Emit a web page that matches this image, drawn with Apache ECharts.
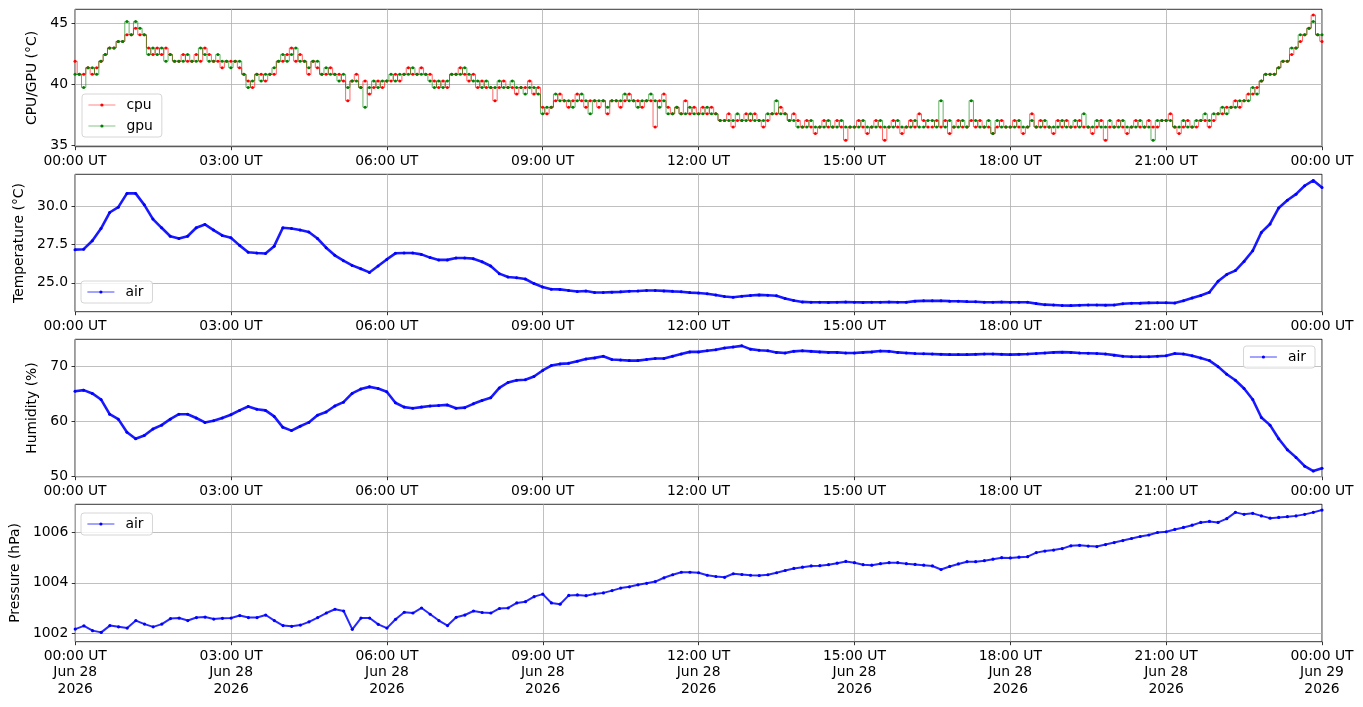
<!DOCTYPE html>
<html>
<head>
<meta charset="utf-8">
<script src="https://cdn.jsdelivr.net/npm/echarts@6/dist/echarts.min.js"></script>
<style>
  html, body { margin: 0; padding: 0; background: #fff; }
  #main { width: 1363px; height: 707px; }
</style>
</head>
<body>
<div id="main"></div>
<script>
// cpu / gpu readings, one every 5 minutes from 00:00 UT
var cpuStep = 5;
var cpuTemp = [
  41.9, 40.82, 40.82, 41.36, 40.82, 41.36, 41.9, 42.44, 42.98, 42.98, 43.52, 43.52,
  44.06, 44.06, 44.6, 44.06, 44.06, 42.98, 42.44, 42.98, 42.44, 42.98, 42.44, 41.9,
  41.9, 42.44, 41.9, 41.9, 42.44, 41.9, 42.98, 42.44, 41.9, 41.9, 41.36, 41.9,
  41.9, 41.9, 41.36, 40.82, 40.28, 39.74, 40.82, 40.82, 40.28, 40.82, 40.82, 41.9,
  41.9, 42.44, 42.98, 41.9, 42.44, 41.9, 40.82, 41.9, 41.36, 40.82, 40.82, 41.36,
  40.82, 40.82, 40.28, 38.66, 40.28, 40.82, 39.74, 40.28, 39.2, 39.74, 40.28, 39.74,
  40.28, 40.28, 40.82, 40.28, 40.82, 41.36, 40.82, 40.82, 41.36, 40.82, 40.82, 40.28,
  39.74, 40.28, 39.74, 40.82, 40.82, 41.36, 40.82, 40.28, 40.82, 39.74, 40.28, 39.74,
  39.74, 38.66, 39.74, 40.28, 39.74, 39.74, 39.2, 39.74, 39.74, 40.28, 39.2, 39.74,
  38.12, 37.58, 38.12, 38.66, 39.2, 38.66, 38.12, 38.66, 39.2, 38.66, 38.12, 38.66,
  38.66, 38.12, 38.66, 37.58, 38.66, 38.66, 38.12, 38.66, 39.2, 38.66, 38.66, 38.12,
  38.66, 38.66, 36.5, 38.66, 39.2, 38.12, 37.58, 38.12, 37.58, 38.66, 37.58, 38.12,
  37.58, 38.12, 37.58, 38.12, 37.58, 37.04, 37.04, 37.58, 36.5, 37.04, 37.04, 37.58,
  37.04, 37.58, 37.04, 36.5, 37.04, 37.58, 37.58, 38.12, 37.58, 37.04, 37.58, 37.04,
  36.5, 37.04, 36.5, 35.96, 36.5, 37.04, 36.5, 36.5, 37.04, 36.5, 35.42, 36.5,
  36.5, 37.04, 36.5, 35.96, 36.5, 37.04, 36.5, 35.42, 36.5, 37.04, 36.5, 35.96,
  36.5, 37.04, 36.5, 37.58, 37.04, 36.5, 36.5, 37.04, 36.5, 37.04, 35.96, 36.5,
  37.04, 36.5, 36.5, 37.04, 36.5, 37.04, 36.5, 36.5, 35.96, 36.5, 37.04, 36.5,
  36.5, 37.04, 36.5, 35.96, 36.5, 37.58, 36.5, 37.04, 36.5, 36.5, 35.96, 37.04,
  36.5, 37.04, 36.5, 36.5, 37.04, 36.5, 36.5, 35.96, 36.5, 37.04, 35.42, 36.5,
  36.5, 37.04, 36.5, 35.96, 36.5, 37.04, 36.5, 36.5, 37.04, 36.5, 36.5, 37.04,
  37.04, 37.58, 36.5, 35.96, 36.5, 37.04, 36.5, 36.5, 37.04, 37.04, 36.5, 37.04,
  37.58, 37.58, 38.12, 38.12, 38.66, 38.12, 38.66, 39.2, 39.2, 39.74, 40.28, 40.82,
  40.82, 40.82, 41.36, 41.9, 41.9, 42.44, 42.98, 43.52, 44.06, 44.6, 45.68, 44.06,
  43.52
];
var gpuTemp = [
  40.82, 40.82, 39.74, 41.36, 41.36, 40.82, 41.9, 42.44, 42.98, 42.98, 43.52, 43.52,
  45.14, 44.06, 45.14, 44.6, 44.06, 42.44, 42.98, 42.44, 42.98, 41.9, 42.44, 41.9,
  41.9, 41.9, 42.44, 41.9, 41.9, 42.98, 42.44, 41.9, 41.9, 42.44, 41.9, 41.9,
  41.36, 41.9, 41.9, 40.82, 39.74, 40.28, 40.82, 40.28, 40.82, 40.82, 41.36, 41.9,
  42.44, 41.9, 42.44, 42.98, 41.9, 41.9, 41.36, 41.9, 41.9, 40.82, 41.36, 40.82,
  40.82, 40.28, 40.82, 39.74, 40.28, 40.28, 39.74, 38.12, 39.74, 40.28, 39.74, 40.28,
  40.28, 40.82, 40.28, 40.82, 40.82, 40.82, 41.36, 40.82, 40.82, 40.82, 40.28, 39.74,
  40.28, 39.74, 40.28, 40.82, 40.82, 40.82, 41.36, 40.82, 40.28, 40.28, 39.74, 40.28,
  39.74, 39.74, 40.28, 39.74, 39.74, 40.28, 39.74, 39.74, 39.2, 39.74, 39.74, 39.2,
  37.58, 38.12, 38.12, 39.2, 38.66, 38.66, 38.66, 38.12, 38.66, 39.2, 38.66, 37.58,
  38.66, 38.66, 38.66, 38.12, 38.66, 38.66, 38.66, 39.2, 38.66, 38.66, 38.12, 38.66,
  38.66, 39.2, 38.66, 38.12, 38.66, 37.58, 37.58, 38.12, 37.58, 37.58, 38.12, 37.58,
  37.58, 37.58, 38.12, 37.58, 37.58, 37.04, 37.04, 37.04, 37.04, 37.58, 37.04, 37.04,
  37.58, 37.04, 37.04, 37.04, 37.58, 37.58, 38.66, 37.58, 37.58, 37.04, 37.04, 36.5,
  36.5, 36.5, 37.04, 36.5, 36.5, 36.5, 37.04, 36.5, 36.5, 37.04, 36.5, 36.5,
  36.5, 36.5, 37.04, 36.5, 36.5, 36.5, 37.04, 36.5, 36.5, 36.5, 37.04, 36.5,
  36.5, 36.5, 37.04, 36.5, 36.5, 37.04, 37.04, 36.5, 38.66, 36.5, 37.04, 36.5,
  36.5, 37.04, 36.5, 38.66, 37.04, 36.5, 36.5, 37.04, 35.96, 37.04, 36.5, 36.5,
  36.5, 36.5, 37.04, 36.5, 36.5, 37.04, 36.5, 36.5, 37.04, 36.5, 36.5, 36.5,
  37.04, 36.5, 36.5, 37.04, 36.5, 37.58, 36.5, 36.5, 37.04, 36.5, 36.5, 37.04,
  36.5, 36.5, 37.04, 36.5, 36.5, 36.5, 37.04, 36.5, 36.5, 35.42, 37.04, 37.04,
  37.04, 37.04, 36.5, 36.5, 37.04, 36.5, 36.5, 37.04, 37.04, 37.58, 37.04, 37.58,
  37.58, 38.12, 37.58, 38.12, 38.12, 38.66, 38.66, 38.66, 39.74, 39.2, 40.28, 40.82,
  40.82, 40.82, 41.36, 41.9, 41.9, 42.98, 42.98, 44.06, 44.06, 44.6, 45.14, 44.06,
  44.06
];

// air sensor readings, one every 10 minutes from 00:00 UT
var airStep = 10;
var airTemp = [
  27.17, 27.2, 27.75, 28.55, 29.6, 29.95, 30.85, 30.85, 30.1, 29.17, 28.6, 28.05,
  27.9, 28.05, 28.6, 28.82, 28.45, 28.1, 27.95, 27.45, 27.0, 26.95, 26.92, 27.4,
  28.6, 28.55, 28.45, 28.33, 27.9, 27.3, 26.8, 26.45, 26.14, 25.92, 25.68, 26.1,
  26.53, 26.93, 26.95, 26.95, 26.86, 26.65, 26.5, 26.5, 26.62, 26.62, 26.58, 26.38,
  26.1, 25.6, 25.38, 25.33, 25.25, 24.95, 24.73, 24.58, 24.57, 24.5, 24.43, 24.46,
  24.37, 24.37, 24.39, 24.41, 24.45, 24.46, 24.5, 24.5, 24.47, 24.44, 24.42, 24.36,
  24.33, 24.28, 24.2, 24.1, 24.06, 24.12, 24.17, 24.21, 24.19, 24.15, 23.98, 23.84,
  23.75, 23.73, 23.73, 23.72, 23.73, 23.74, 23.73, 23.72, 23.73, 23.73, 23.74, 23.73,
  23.73, 23.8, 23.82, 23.82, 23.83, 23.8, 23.79, 23.77, 23.76, 23.73, 23.73, 23.74,
  23.73, 23.73, 23.73, 23.64, 23.57, 23.55, 23.52, 23.51, 23.53, 23.55, 23.55, 23.54,
  23.55, 23.63, 23.66, 23.67, 23.69, 23.7, 23.7, 23.68, 23.82, 24.0, 24.17, 24.38,
  25.1, 25.55, 25.8, 26.4, 27.1, 28.3, 28.85, 29.9, 30.4, 30.8, 31.35, 31.7,
  31.23
];
var airHum = [
  65.5, 65.7, 65.1, 64.0, 61.3, 60.4, 58.0, 56.8, 57.4, 58.6, 59.3, 60.4,
  61.3, 61.3, 60.6, 59.8, 60.1, 60.6, 61.2, 62.0, 62.7, 62.2, 62.0, 60.9,
  58.9, 58.3, 59.1, 59.8, 61.1, 61.7, 62.8, 63.5, 65.1, 65.9, 66.3, 66.0,
  65.4, 63.4, 62.6, 62.4, 62.6, 62.8, 62.9, 63.0, 62.4, 62.5, 63.2, 63.8,
  64.3, 66.1, 67.1, 67.5, 67.6, 68.2, 69.3, 70.2, 70.5, 70.6, 71.0, 71.4,
  71.6, 71.9, 71.3, 71.2, 71.1, 71.1, 71.3, 71.5, 71.5, 71.9, 72.3, 72.7,
  72.7, 72.9, 73.1, 73.4, 73.6, 73.8, 73.2, 73.0, 72.9, 72.6, 72.5, 72.8,
  72.9, 72.8, 72.7, 72.6, 72.6, 72.5, 72.5, 72.6, 72.7, 72.85, 72.8, 72.6,
  72.5, 72.4, 72.35, 72.3, 72.25, 72.2, 72.2, 72.2, 72.25, 72.3, 72.3, 72.25,
  72.2, 72.25, 72.3, 72.4, 72.5, 72.6, 72.65, 72.6, 72.5, 72.45, 72.4, 72.3,
  72.1, 71.9, 71.8, 71.8, 71.8, 71.9, 72.0, 72.4, 72.3, 72.0, 71.6, 71.1,
  70.0, 68.6, 67.5, 66.0, 64.0, 60.7, 59.3, 56.8, 54.8, 53.4, 51.8, 50.9,
  51.4
];
var airPres = [
  1002.16, 1002.29, 1002.1, 1002.03, 1002.3, 1002.25, 1002.2, 1002.5, 1002.36, 1002.25, 1002.36, 1002.58,
  1002.6, 1002.5, 1002.62, 1002.64, 1002.56, 1002.59, 1002.6, 1002.7, 1002.62, 1002.62, 1002.72, 1002.5,
  1002.3, 1002.27, 1002.32, 1002.45, 1002.62, 1002.8, 1002.95, 1002.88, 1002.15, 1002.6, 1002.6, 1002.35,
  1002.2, 1002.55, 1002.83, 1002.8, 1003.0, 1002.75, 1002.5, 1002.3, 1002.63, 1002.72, 1002.88, 1002.82,
  1002.8, 1002.98, 1003.0, 1003.2, 1003.25, 1003.45, 1003.55, 1003.2, 1003.15, 1003.5, 1003.52, 1003.49,
  1003.56, 1003.6, 1003.69, 1003.79, 1003.84, 1003.92, 1003.98, 1004.05, 1004.2, 1004.32, 1004.42, 1004.42,
  1004.4, 1004.3, 1004.25, 1004.22, 1004.36, 1004.33, 1004.3, 1004.29, 1004.32, 1004.4, 1004.49, 1004.57,
  1004.62, 1004.67, 1004.68, 1004.72, 1004.78, 1004.85, 1004.8, 1004.72, 1004.7, 1004.76, 1004.8, 1004.8,
  1004.76, 1004.73, 1004.7, 1004.67, 1004.53, 1004.65, 1004.75, 1004.84, 1004.84, 1004.88, 1004.94, 1005.0,
  1004.99, 1005.02, 1005.04, 1005.2, 1005.26, 1005.3, 1005.36, 1005.47, 1005.49, 1005.46, 1005.44, 1005.52,
  1005.6, 1005.68, 1005.76, 1005.84, 1005.9, 1006.0, 1006.03, 1006.12, 1006.2, 1006.29, 1006.4, 1006.44,
  1006.4, 1006.55, 1006.8, 1006.72, 1006.76, 1006.66, 1006.57, 1006.6, 1006.63, 1006.66, 1006.72, 1006.8,
  1006.89
];

// tick values
var cpuTicks = [35, 40, 45];
var tempTicks = [25, 27.5, 30];
var humTicks = [50, 60, 70];
var presTicks = [1002, 1004, 1006];

function pairs(values, step) {
  return values.map(function (v, i) { return [i * step, v]; });
}

function pad2(n) { return (n < 10 ? '0' : '') + n; }
function timeLabel(v) {
  return pad2(Math.floor(v / 60) % 24) + ':' + pad2(Math.round(v % 60)) + ' UT';
}
function dateLabel(v) {
  return timeLabel(v) + '\nJun ' + (v >= 1440 ? 29 : 28) + '\n2026';
}

var font = 'DejaVu Sans';
var gridTops = [9.3, 174.3, 339.3, 504.3];

var chart = echarts.init(document.getElementById('main'));

var grids = gridTops.map(function (t) {
  return {
    left: 75, right: 41, top: t, height: 137.4,
    show: true, borderColor: '#000', borderWidth: 0.8, backgroundColor: 'transparent'
  };
});

var xAxes = gridTops.map(function (t, i) {
  return {
    type: 'value', gridIndex: i, min: 0, max: 1440, interval: 180,
    axisLine: { show: false },
    axisTick: { show: true, length: 3.5, lineStyle: { color: '#000', width: 0.8 } },
    splitLine: { show: true, lineStyle: { color: '#b0b0b0', width: 0.8 } },
    axisLabel: {
      color: '#000', fontFamily: font, fontSize: 13.9, margin: 6, lineHeight: 16.5,
      formatter: i === 3 ? dateLabel : timeLabel
    }
  };
});

function yAxis(i, name, min, max, ticks, gap, fmt) {
  return {
    type: 'value', gridIndex: i, min: min, max: max,
    name: name, nameLocation: 'middle', nameGap: gap, nameRotate: 90,
    nameTextStyle: { color: '#000', fontFamily: font, fontSize: 13.9 },
    axisLine: { show: false },
    axisTick: { show: true, length: 3.5, customValues: ticks, lineStyle: { color: '#000', width: 0.8 } },
    splitLine: { show: true, lineStyle: { color: '#b0b0b0', width: 0.8 } },
    axisLabel: {
      customValues: ticks, color: '#000', fontFamily: font, fontSize: 13.9, margin: 7,
      formatter: fmt || function (v) { return String(v); }
    }
  };
}

var yAxes = [
  yAxis(0, 'CPU/GPU (°C)', 34.885, 46.15, cpuTicks, 34),
  yAxis(1, 'Temperature (°C)', 23.11, 32.1, tempTicks, 49, function (v) { return v.toFixed(1); }),
  yAxis(2, 'Humidity (%)', 49.87, 75.0, humTicks, 35),
  yAxis(3, 'Pressure (hPa)', 1001.66, 1007.12, presTicks, 52)
];

function lineSeries(name, i, data, color, width, size, alpha, step) {
  return {
    name: name, type: 'line', xAxisIndex: i, yAxisIndex: i,
    data: data, showSymbol: true, symbol: 'circle', symbolSize: size,
    step: step || false,
    itemStyle: { color: color },
    lineStyle: { color: color, width: width, opacity: alpha },
    emphasis: { disabled: true }
  };
}

function legendBox(names, pos) {
  var l = {
    orient: 'vertical', data: names,
    itemWidth: 27, itemHeight: 4, itemGap: 7,
    padding: [4, 9, 4, 6],
    borderColor: '#cccccc', borderWidth: 0.8, borderRadius: 3,
    backgroundColor: 'rgba(255,255,255,0.8)',
    textStyle: { color: '#000', fontFamily: font, fontSize: 13.9, padding: [0, 0, 0, 6] },
    lineStyle: { width: 0.8 },
    selectedMode: false
  };
  for (var k in pos) l[k] = pos[k];
  return l;
}

var option = {
  animation: false,
  backgroundColor: '#fff',
  grid: grids,
  xAxis: xAxes,
  yAxis: yAxes,
  legend: [
    legendBox(['cpu', 'gpu'], { left: 82, top: 94 }),
    legendBox(['air'], { left: 81, top: 281 }),
    legendBox(['air'], { right: 48, top: 346 }),
    legendBox(['air'], { left: 81, top: 513 })
  ],
  series: [
    lineSeries('cpu', 0, pairs(cpuTemp, cpuStep), '#ff0000', 1, 3, 0.6, 'middle'),
    lineSeries('gpu', 0, pairs(gpuTemp, cpuStep), '#008000', 1, 3, 0.6, 'middle'),
    lineSeries('air', 1, pairs(airTemp, airStep), '#0000ff', 2.6, 3, 0.9),
    lineSeries('air', 2, pairs(airHum, airStep), '#0000ff', 2.6, 3, 0.9),
    lineSeries('air', 3, pairs(airPres, airStep), '#0000ff', 2, 3.2, 0.85)
  ]
};

chart.setOption(option);
</script>
</body>
</html>
